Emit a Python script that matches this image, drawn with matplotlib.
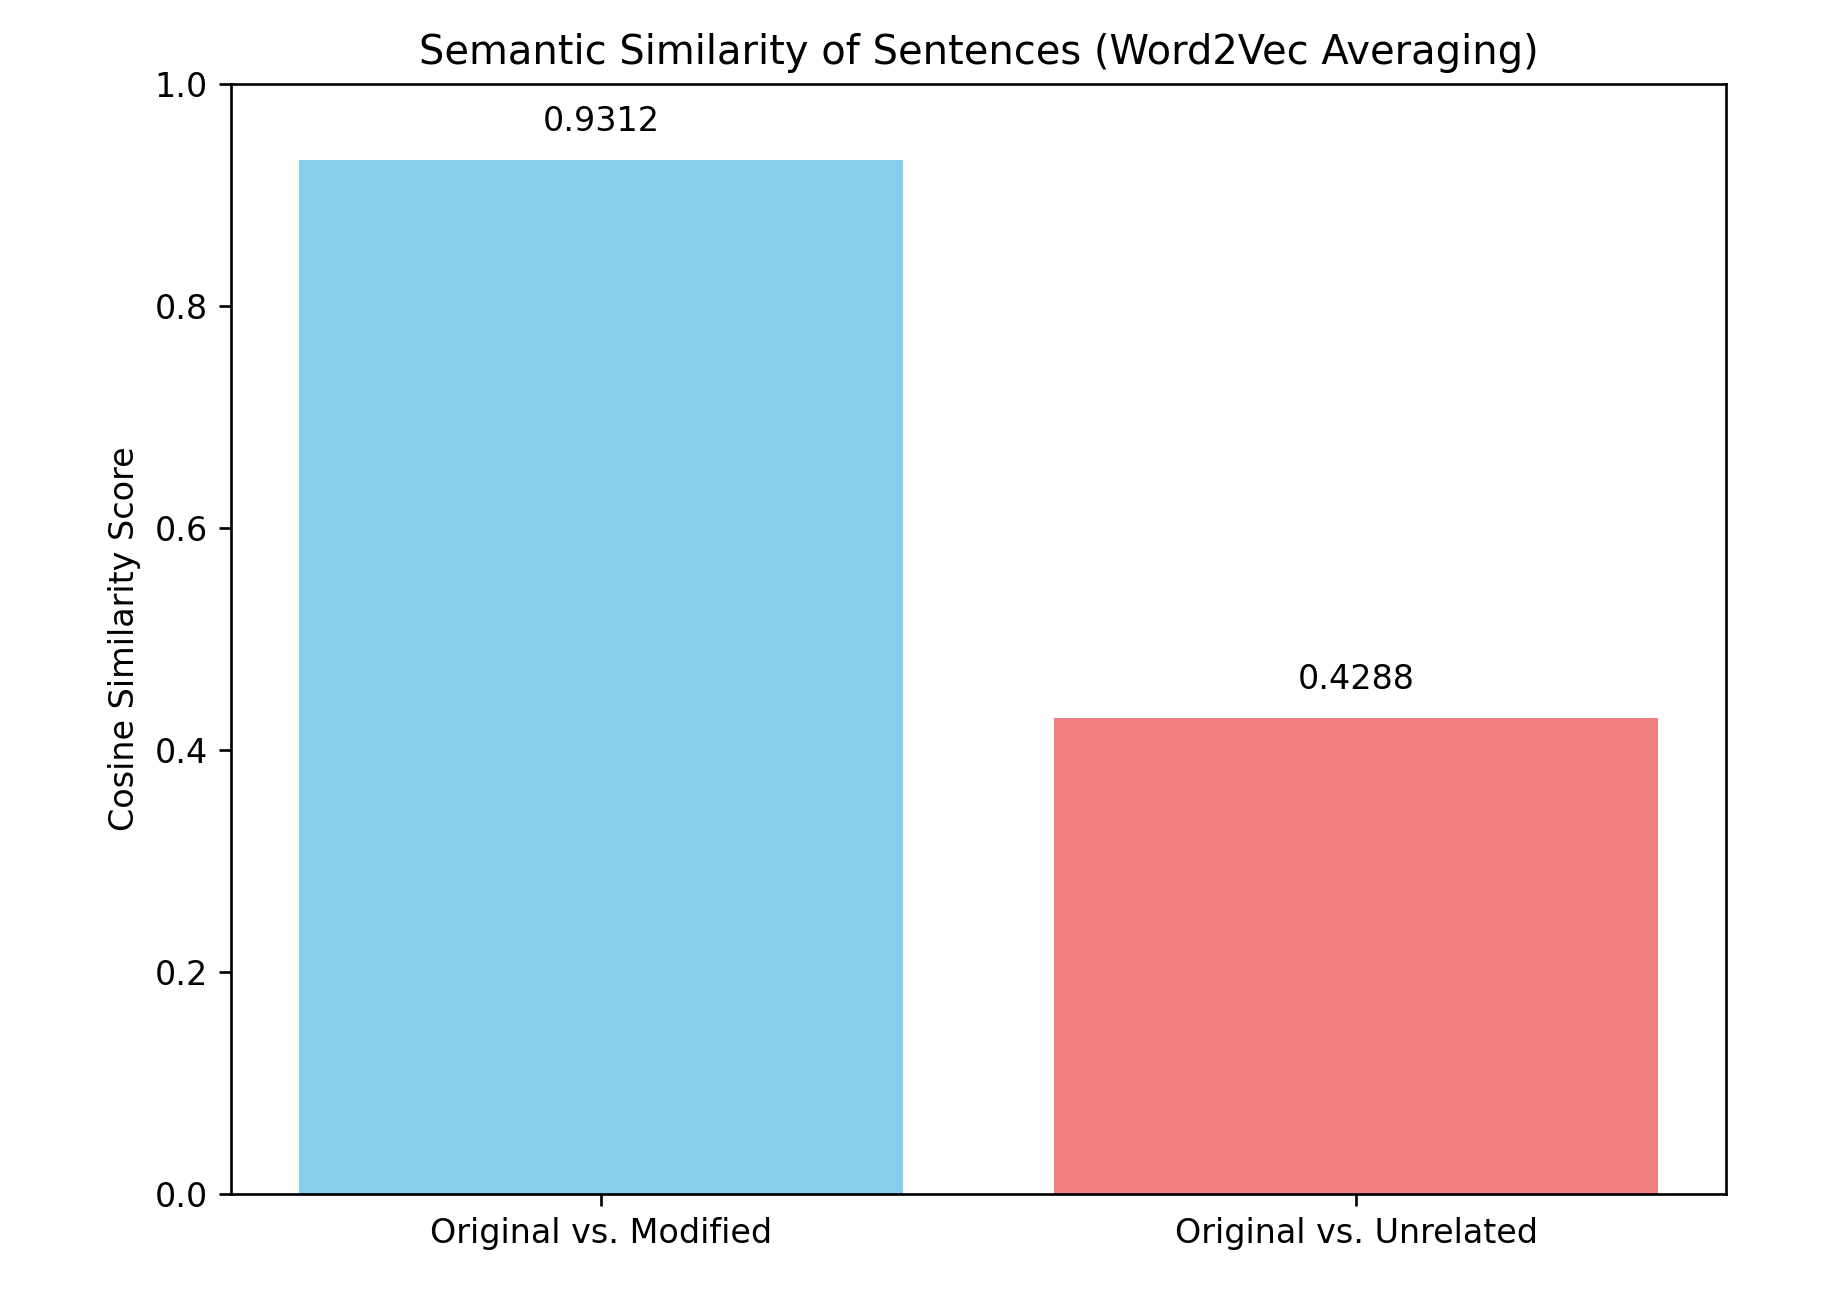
import matplotlib
matplotlib.use("Agg")
import matplotlib.pyplot as plt

categories = ["Original vs. Modified", "Original vs. Unrelated"]
scores = [0.9312, 0.4288]
bar_colors = ["skyblue", "lightcoral"]
yticks = [0.0, 0.2, 0.4, 0.6, 0.8, 1.0]

fig = plt.figure(figsize=(1834 / 240, 1294 / 240), dpi=240)
ax = fig.add_axes([231 / 1834, 1 - 1194 / 1294, (1726 - 231) / 1834, (1194 - 84) / 1294])

bars = ax.bar(categories, scores, color=bar_colors)
for b, v in zip(bars, scores):
    ax.text(b.get_x() + b.get_width() / 2, v + 0.02, f"{v:.4f}",
            ha="center", va="bottom", fontsize=10)

ax.set_ylim(0, 1)
ax.set_yticks(yticks)
ax.set_ylabel("Cosine Similarity Score")
ax.set_title("Semantic Similarity of Sentences (Word2Vec Averaging)")

fig.savefig("out.png", dpi=240)
